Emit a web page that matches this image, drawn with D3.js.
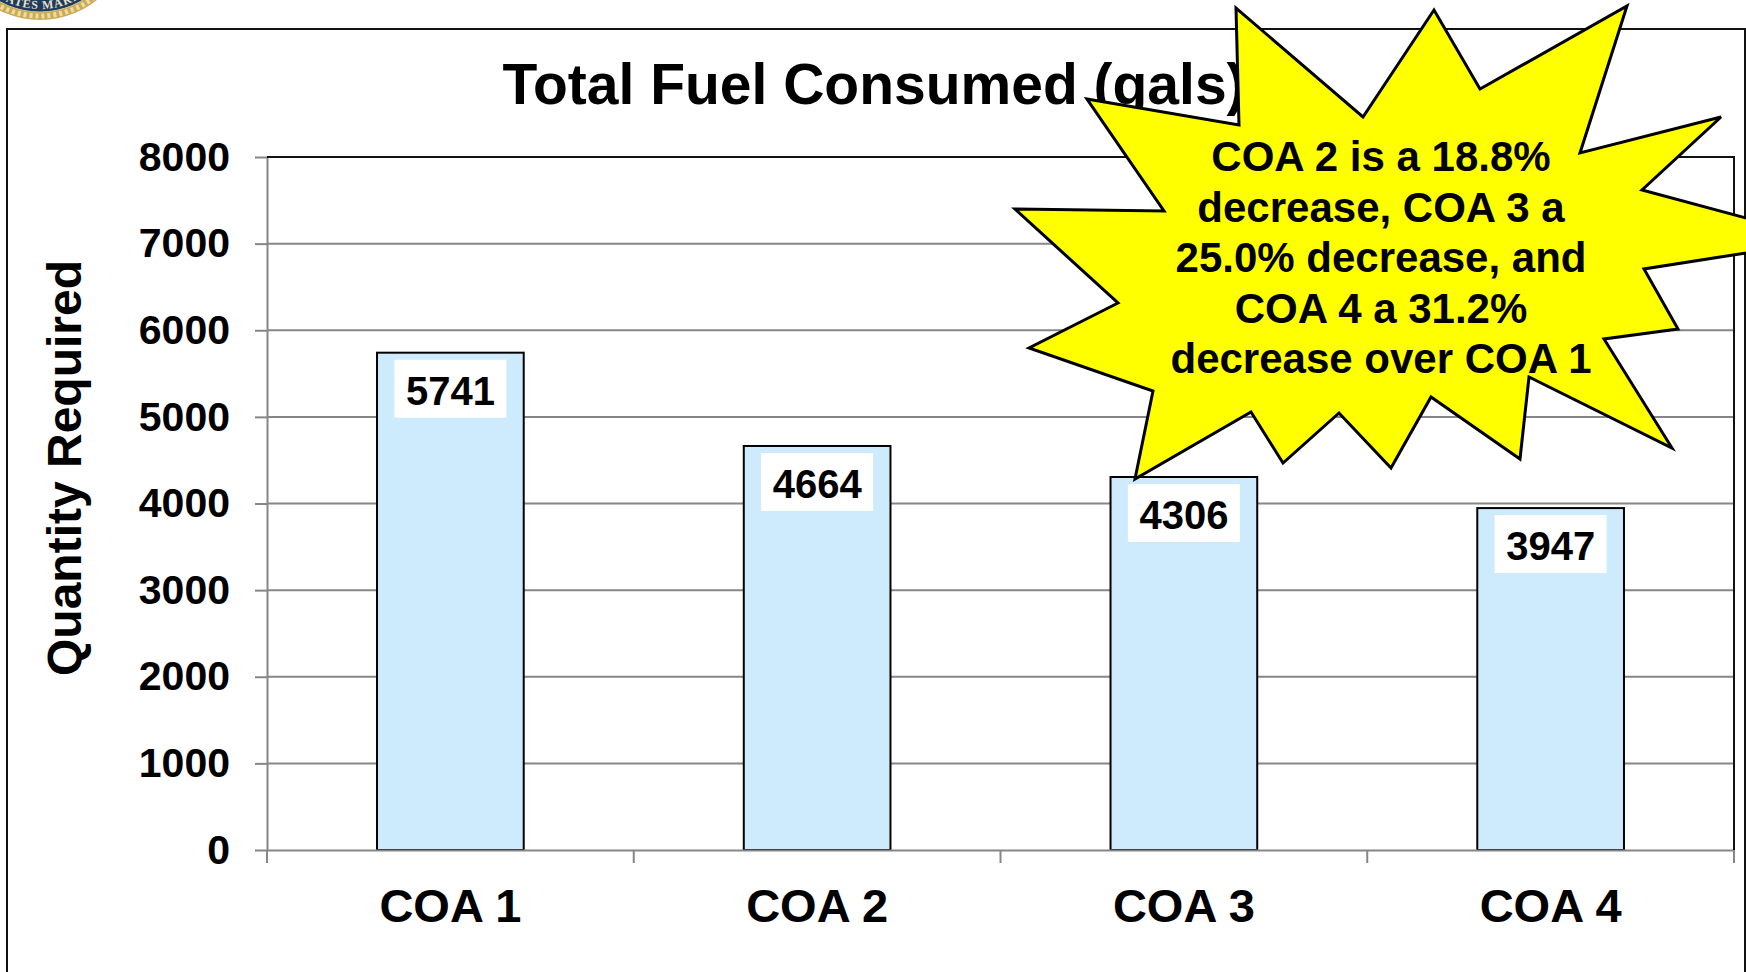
<!DOCTYPE html>
<html><head><meta charset="utf-8">
<script src="https://cdn.jsdelivr.net/npm/d3@7"></script>
<style>
body{margin:0;background:#fff;}
svg{display:block;}
</style></head><body>
<div id="chart"></div>
<script>
var categories=["COA 1","COA 2","COA 3","COA 4"];
var fuelValues=[5741,4664,4306,3947];
var yTicks=[0,1000,2000,3000,4000,5000,6000,7000,8000];
var titleText="Total Fuel Consumed (gals)";
var yTitle="Quantity Required";
var calloutLines=["COA 2 is a 18.8%","decrease, COA 3 a","25.0% decrease, and","COA 4 a 31.2%","decrease over COA 1"];
// explosion outline, offsets from the callout centre
var burstPts=[[-294,-173],[-142,-147],[-145,-264],[-18,-155],[53,-262],[99,-183],[246,-266],[199,-119],[340,-155],[261,-82],[447,-32],[263,-3],[297,57],[223,67],[291,176],[148,105],[139,187],[50,125],[10,196],[-42,141],[-98,191],[-130,140],[-246,207],[-228,119],[-352,76],[-263,31],[-366,-63],[-217,-61]];
var sealText="UNITED STATES MARINE CORPS";

var W=1746,H=972;
var font='"Liberation Sans",Arial,Helvetica,sans-serif';
var plot={left:267,right:1734,top:157,bottom:850};
var grey="#868686";

var svg=d3.select("#chart").append("svg").attr("width",W).attr("height",H)
    .style("font-family",font).style("font-weight","bold");

var x=d3.scaleBand().domain(categories).range([plot.left,plot.right]).paddingInner(0.6).paddingOuter(0.3);
var xCat=d3.scaleBand().domain(categories).range([plot.left,plot.right]);
var y=d3.scaleLinear().domain([0,8000]).range([plot.bottom,plot.top]);

// seal in the corner (mostly cut off)
var seal=svg.append("g").attr("transform","translate(40,-71)");
seal.append("circle").attr("r",91).attr("fill","#c9ab5c");
seal.append("circle").attr("r",87).attr("fill","none").attr("stroke","#f0dc9a")
    .attr("stroke-width",5).attr("stroke-dasharray","3 3");
seal.append("circle").attr("r",83).attr("fill","#1d3a5f").attr("stroke","#d8c690").attr("stroke-width",1);
seal.append("path").attr("id","sealArc").attr("fill","none")
    .attr("d","M -80 0 A 80 80 0 0 0 80 0");
seal.append("text").attr("font-size",12).attr("fill","#e9e1c6")
    .style("font-family",'"Liberation Serif","DejaVu Serif",serif').attr("letter-spacing",1)
  .append("textPath").attr("href","#sealArc").attr("startOffset","50%").attr("text-anchor","middle")
    .text(sealText);

// slide frame
svg.append("rect").attr("x",7).attr("y",29).attr("width",1738).attr("height",1000)
    .attr("fill","none").attr("stroke","#111").attr("stroke-width",2);

// title
svg.append("text").attr("x",874).attr("y",104).attr("text-anchor","middle")
    .attr("font-size",57).attr("fill","#000").text(titleText);

// gridlines
svg.append("g").selectAll("line").data(yTicks.filter(function(d){return d>0&&d<8000;}))
  .enter().append("line")
    .attr("x1",plot.left).attr("x2",plot.right)
    .attr("y1",function(d){return y(d);}).attr("y2",function(d){return y(d);})
    .attr("stroke",grey).attr("stroke-width",2);

// bars
svg.append("g").selectAll("rect").data(fuelValues).enter().append("rect")
    .attr("x",function(d,i){return x(categories[i]);})
    .attr("y",function(d){return y(d);})
    .attr("width",x.bandwidth())
    .attr("height",function(d){return y(0)-y(d);})
    .attr("fill","#cdebfd").attr("stroke","#000").attr("stroke-width",2);

// value labels
var lab=svg.append("g").selectAll("g").data(fuelValues).enter().append("g")
    .attr("transform",function(d,i){return "translate("+(x(categories[i])+x.bandwidth()/2)+","+y(d)+")";});
lab.append("rect").attr("x",-56).attr("y",7).attr("width",112).attr("height",58).attr("fill","#fff");
lab.append("text").attr("y",52).attr("text-anchor","middle").attr("font-size",40).attr("fill","#000")
    .text(function(d){return d;});

// y axis
var yAxis=svg.append("g").attr("transform","translate("+plot.left+",0)")
    .call(d3.axisLeft(y).tickValues(yTicks).tickFormat(d3.format("d")).tickSize(12).tickPadding(25).tickSizeOuter(0));
yAxis.attr("font-family",null).attr("font-size",null);
yAxis.select(".domain").attr("stroke",grey).attr("stroke-width",2);
yAxis.selectAll(".tick line").attr("stroke",grey).attr("stroke-width",2);
yAxis.selectAll(".tick text").attr("font-size",41).attr("fill","#000");

// x axis
var xAxis=svg.append("g").attr("transform","translate(0,"+plot.bottom+")")
    .call(d3.axisBottom(xCat).tickSize(0).tickPadding(39).tickSizeOuter(0));
xAxis.attr("font-family",null).attr("font-size",null);
xAxis.select(".domain").attr("stroke",grey).attr("stroke-width",2);
xAxis.selectAll(".tick text").attr("font-size",47).attr("fill","#000");
xAxis.append("g").selectAll("line")
    .data(categories.map(function(c){return xCat(c);}).concat([plot.right]))
  .enter().append("line")
    .attr("x1",function(d){return d;}).attr("x2",function(d){return d;})
    .attr("y1",0).attr("y2",13).attr("stroke",grey).attr("stroke-width",2);

// plot border top/right
svg.append("path")
    .attr("d","M"+plot.left+","+plot.top+"H"+plot.right+"V"+plot.bottom)
    .attr("fill","none").attr("stroke","#111").attr("stroke-width",2);

// y title
svg.append("text").attr("transform","translate(81,468) rotate(-90)")
    .attr("text-anchor","middle").attr("font-size",48).attr("fill","#000").text(yTitle);

// callout burst
var burst=svg.append("g").attr("transform","translate(1381,272)");
burst.append("path")
    .attr("d",d3.line()(burstPts)+"Z")
    .attr("fill","#ffff00").attr("stroke","#000").attr("stroke-width",3).attr("stroke-linejoin","miter");
burst.selectAll("text").data(calloutLines).enter().append("text")
    .attr("x",0).attr("y",function(d,i){return -101+i*50.5;})
    .attr("text-anchor","middle").attr("font-size",42).attr("fill","#000")
    .text(function(d){return d;});
</script>
</body></html>
